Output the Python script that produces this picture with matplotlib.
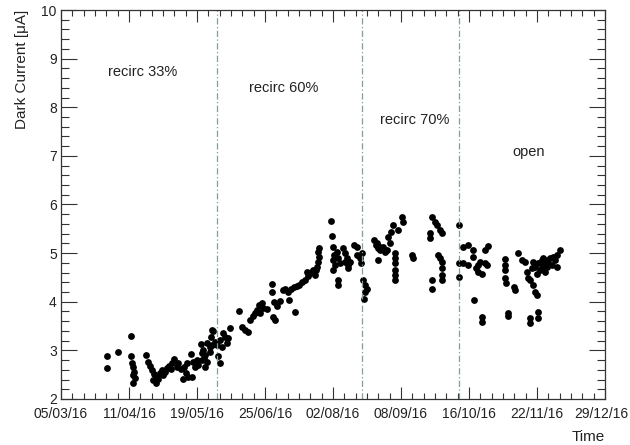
#!/usr/bin/env python3
"""Dark current vs time, ROOT-style scatter with recirculation phases."""

import numpy as np
import matplotlib
matplotlib.use("Agg")
import matplotlib.pyplot as plt
import matplotlib.dates as mdates
import matplotlib.transforms as mtransforms
from matplotlib.ticker import FixedLocator, MultipleLocator, FuncFormatter

# --- data -----------------------------------------------------------------
base_date = "2016-03-05"

# days after base_date
t_days = [
    25.5, 25.5, 31.9, 38.9, 38.9, 39.3, 40.2, 40.7, 39.8, 41.1, 40.2,
    47.0, 48.4, 49.4, 50.3, 51.7, 53.0, 51.2, 53.9, 52.7, 54.9, 55.8,
    56.7, 57.6, 58.6, 59.8, 60.9, 62.7, 61.6, 64.1, 64.9, 66.4, 67.7,
    69.0, 70.5, 72.7, 68.3, 69.6, 71.9, 73.2, 74.1, 75.1, 76.0, 77.4,
    78.2, 79.3, 79.7, 80.6, 82.4, 83.3, 83.0, 83.7,
    84.0, 85.2, 80.6, 82.4, 78.7, 86.1, 87.9, 88.9, 89.7, 90.7, 91.6,
    92.5, 93.4, 87.0, 87.9, 77.8, 79.7, 98.5, 99.9, 101.7, 103.5, 104.4,
    105.9, 107.2, 108.1, 109.6, 110.9, 111.8, 109.9, 113.6, 116.4, 116.4,
    117.6, 119.5, 117.3, 118.2, 120.9, 122.4, 123.7, 125.5, 126.1, 126.8,
    128.7, 130.2, 131.6, 132.9, 134.7, 136.0, 129.2,
    137.5, 139.3, 140.2, 141.2, 141.7, 142.4, 142.0, 142.4, 140.6, 138.4,
    136.5, 149.0, 149.4, 150.3, 150.9, 150.3, 151.2, 150.3, 152.2, 153.1,
    154.0, 152.7, 153.1, 155.8, 156.7, 157.7, 158.2, 158.6, 156.7, 159.5,
    161.9, 163.2, 163.2, 165.0, 165.9, 165.6, 166.8, 167.8, 168.7, 167.8,
    167.4, 172.9, 174.2, 176.0, 175.1,
    173.8, 175.1, 176.0, 177.8, 178.8, 179.7, 180.6, 181.9, 183.3, 186.1,
    188.0, 188.9, 181.5, 184.3, 184.3, 184.3, 184.3, 184.3, 184.3, 193.5,
    194.4, 204.5, 206.3, 207.2, 209.1, 210.0, 203.6, 203.6, 208.1, 209.1,
    210.0, 210.0, 210.0, 210.0, 204.5, 204.5, 219.7, 219.7, 219.7,
    221.9, 224.6, 227.4, 227.4, 221.9, 224.6, 228.7, 230.2, 232.0, 230.2,
    231.1, 233.8, 234.8, 233.8, 235.7, 228.0, 232.4, 232.4, 244.9, 244.9,
    244.9, 244.9, 245.2, 246.3, 246.3, 250.0, 250.4, 252.2, 254.1, 255.9,
    256.8, 257.7, 258.6, 260.4, 261.4, 262.3, 258.6, 258.6, 262.9, 262.9,
    259.6, 261.4, 263.2, 265.1, 266.0, 264.1, 262.3,
    266.0, 267.8, 269.6, 271.5, 273.3, 272.4, 270.6, 267.8, 265.1, 273.3,
    268.7, 266.9, 275.1, 260.4,
]

dark_current = [
    2.885, 2.645, 2.97, 3.30, 2.885, 2.735, 2.65, 2.56, 2.49, 2.43, 2.32,
    2.91, 2.77, 2.68, 2.60, 2.515, 2.46, 2.39, 2.405, 2.32, 2.53, 2.60,
    2.49, 2.56, 2.63, 2.68, 2.61, 2.83, 2.735, 2.665, 2.735, 2.61, 2.42,
    2.53, 2.445, 2.46, 2.665, 2.735, 2.925, 2.77, 2.665, 2.80, 2.70, 3.13,
    2.95, 2.84, 2.65, 2.77, 2.97, 3.42, 3.27, 3.11,
    3.40, 3.18, 3.145, 3.06, 3.01, 3.11, 3.21, 3.075, 3.35, 3.28, 3.145,
    3.25, 3.455, 2.885, 2.735, 2.80, 2.905, 3.81, 3.49, 3.42, 3.37, 3.625,
    3.71, 3.76, 3.83, 3.93, 3.98, 3.865, 3.76, 3.85, 4.36, 4.21,
    4.00, 3.91, 3.68, 3.625, 4.02, 4.24, 4.27, 4.21, 4.04, 4.255,
    4.30, 4.325, 4.345, 4.41, 4.45, 4.62, 3.795,
    4.60, 4.65, 4.55, 4.72, 4.825, 4.93, 5.03, 5.10, 4.65, 4.62,
    4.52, 5.67, 5.35, 5.13, 4.96, 4.86, 4.76, 4.65, 5.03, 4.89,
    4.79, 4.45, 4.345, 5.10, 5.00, 4.89, 4.76, 4.69, 4.825, 4.825,
    5.17, 5.13, 4.96, 4.89, 5.00, 4.79, 4.45, 4.345, 4.27, 4.21,
    4.05, 5.27, 5.20, 5.13, 4.86,
    5.17, 5.10, 5.06, 5.13, 5.03, 5.06, 5.34, 5.44, 5.58, 5.48,
    5.75, 5.65, 5.20, 5.00, 4.89, 4.79, 4.65, 4.55, 4.45, 4.96,
    4.89, 5.75, 5.65, 5.58, 5.48, 5.41, 5.41, 5.31, 4.96, 4.89,
    4.825, 4.69, 4.55, 4.45, 4.45, 4.27, 5.58, 4.79, 4.50,
    5.13, 5.17, 5.06, 4.91, 4.79, 4.76, 4.69, 4.62, 4.58, 4.76,
    4.825, 4.79, 4.76, 5.06, 5.15, 4.04, 3.69, 3.59, 4.87, 4.76,
    4.65, 4.48, 4.38, 3.76, 3.71, 4.30, 4.24, 5.00, 4.86, 4.825,
    4.62, 4.48, 4.45, 4.345, 4.21, 4.14, 3.66, 3.57, 3.795, 3.66,
    4.69, 4.72, 4.79, 4.86, 4.76, 4.65, 4.58,
    4.89, 4.86, 4.89, 4.93, 4.96, 4.86, 4.76, 4.72, 4.69, 4.72,
    4.79, 4.62, 5.06, 4.825,
]

phase_changes = ["2016-05-30 00:00", "2016-08-18 02:00", "2016-10-10 17:00"]
phase_labels = ["recirc 33%", "recirc 60%", "recirc 70%", "open"]
phase_label_days = [26.2, 103.9, 176.0, 248.7]
phase_label_vals = [8.73, 8.40, 7.74, 7.08]

# axis range, ROOT-like uniform time divisions
axis_start_day = 0.35
axis_step_days = 37.45
n_major = 8


def main():
    plt.rcParams.update({
        "font.family": ["Liberation Sans", "DejaVu Sans"],
        "font.size": 10,
        "axes.linewidth": 0.9,
    })

    t0 = mdates.datestr2num(base_date)
    x = t0 + np.asarray(t_days)
    y = np.asarray(dark_current)

    fig = plt.figure(figsize=(6.3, 4.45), dpi=100)
    ax = fig.add_axes([0.0968, 0.1034, 0.8635, 0.8741])

    ax.plot(x, y, "o", color="black", ms=4.9, mec="black", mew=0)

    for d in phase_changes:
        ax.axvline(mdates.datestr2num(d), color="#7fa393", lw=0.9,
                   ls=(0, (5, 2, 1, 2)))

    for lab, d, v in zip(phase_labels, phase_label_days, phase_label_vals):
        ax.text(t0 + d, v, lab, fontsize=10.5, ha="left", va="center",
                color="#222222")

    xmin = t0 + axis_start_day
    xmax = xmin + n_major * axis_step_days
    ax.set_xlim(xmin, xmax)
    ax.set_ylim(2, 10)

    ax.xaxis.set_major_locator(FixedLocator(np.linspace(xmin, xmax, n_major + 1)))
    ax.xaxis.set_minor_locator(FixedLocator(np.linspace(xmin, xmax, n_major * 6 + 1)))
    ax.xaxis.set_major_formatter(
        FuncFormatter(lambda v, p: mdates.num2date(v).strftime("%d/%m/%y")))
    ax.yaxis.set_major_locator(MultipleLocator(1))
    ax.yaxis.set_minor_locator(MultipleLocator(0.2))
    ax.yaxis.set_major_formatter(FuncFormatter(lambda v, p: f"{v:.0f}"))

    ax.tick_params(axis="both", which="both", direction="in", top=True,
                   right=True, color="#333333", labelcolor="#222222")
    ax.tick_params(axis="x", which="major", length=8.4, width=0.8, pad=6)
    ax.tick_params(axis="x", which="minor", length=4.2, width=0.8)
    ax.tick_params(axis="y", which="major", length=11.5, width=0.8, pad=3)
    ax.tick_params(axis="y", which="minor", length=5.8, width=0.8)
    for s in ax.spines.values():
        s.set_color("#333333")

    # keep the last date label inside the canvas
    shift = mtransforms.ScaledTranslation(-3 / 72, 0, fig.dpi_scale_trans)
    last = ax.xaxis.get_major_ticks()[-1].label1
    last.set_transform(last.get_transform() + shift)

    ax.set_ylabel("Dark Current [\u03bcA]", fontsize=11, color="#222222",
                  loc="top", labelpad=9)
    ax.set_xlabel("Time", fontsize=11, color="#222222", loc="right",
                  labelpad=6)

    fig.savefig("out.png", dpi=100)


if __name__ == "__main__":
    main()
